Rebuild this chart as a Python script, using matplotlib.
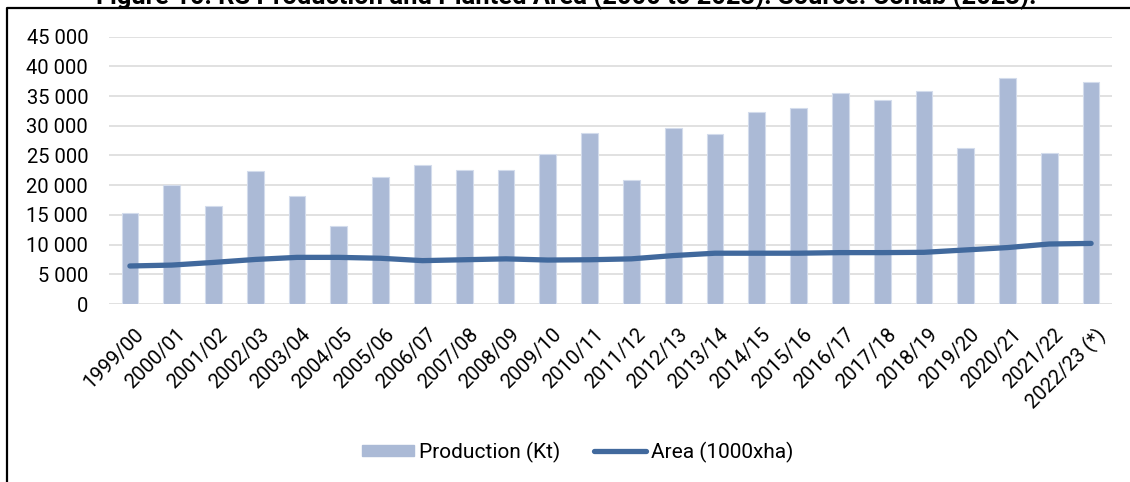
import matplotlib.pyplot as plt
from matplotlib.lines import Line2D
from matplotlib.patches import Patch
from matplotlib.ticker import FuncFormatter
from matplotlib.transforms import ScaledTranslation

plt.rcParams['font.family'] = ['Roboto', 'DejaVu Sans']

seasons = ['1999/00', '2000/01', '2001/02', '2002/03', '2003/04', '2004/05',
           '2005/06', '2006/07', '2007/08', '2008/09', '2009/10', '2010/11',
           '2011/12', '2012/13', '2013/14', '2014/15', '2015/16', '2016/17',
           '2017/18', '2018/19', '2019/20', '2020/21', '2021/22',
           '2022/23 (*)']
production = [15300, 20100, 16500, 22350, 18150, 13150, 21300, 23400,
              22550, 22500, 25300, 28750, 20850, 29650, 28600, 32400,
              32950, 35550, 34400, 35800, 26250, 38000, 25500, 37350]
area = [6400, 6550, 7000, 7500, 7850, 7850, 7700, 7300, 7450, 7600,
        7400, 7450, 7600, 8150, 8550, 8550, 8550, 8650, 8650, 8700,
        9100, 9500, 10100, 10200]

W, H = 1130, 482
fig = plt.figure(figsize=(W / 100, H / 100), dpi=100)
ax = fig.add_axes([109 / W, 178 / H, 1003 / W, 267.3 / H])

x = list(range(len(seasons)))
ax.bar(x, production, width=0.4, color='#abbad6', edgecolor='#d3dcec',
       linewidth=0.8, zorder=2)
ax.plot(x, area, color='#41699d', linewidth=3.8, solid_capstyle='round',
        solid_joinstyle='round', zorder=3)

ax.set_xlim(-0.5, len(seasons) - 0.5)
ax.set_ylim(0, 45000)
ax.set_yticks(range(0, 45001, 5000))
ax.yaxis.set_major_formatter(
    FuncFormatter(lambda v, _: f'{int(v):,}'.replace(',', ' ')))
ax.grid(axis='y', color='#d9d9d9', linewidth=1.1, zorder=0)
ax.set_axisbelow(True)
for s in ax.spines.values():
    s.set_visible(False)

ax.set_xticks(x)
ax.set_xticklabels(seasons, rotation=45, ha='right', va='top',
                   rotation_mode='anchor')
ax.tick_params(axis='x', length=0, pad=15, labelsize=14.5)
ax.tick_params(axis='y', length=0, pad=15, labelsize=14.5)
shift = ScaledTranslation(4 / 100, 0, fig.dpi_scale_trans)
for lab in ax.get_xticklabels():
    lab.set_transform(lab.get_transform() + shift)

# legend below the axis labels
handles = [Patch(facecolor='#abbad6', edgecolor='#abbad6'),
           Line2D([], [], color='#41699d', linewidth=3.8,
                  solid_capstyle='round')]
fig.legend(handles, ['Production (Kt)', 'Area (1000xha)'], ncol=2,
           loc='center', bbox_to_anchor=(577.5 / W, 1 - 452 / H),
           frameon=False, fontsize=15, handlelength=2.5, handleheight=0.5,
           handletextpad=0.25, columnspacing=1.6)

# caption sits above the frame, mostly cut off by the image edge
fig.text(566 / W, 1 - 4 / H, 'Figure 10: RS Production and Planted Area '
         '(2000 to 2023). Source: Conab (2023).', ha='center',
         va='baseline', fontsize=18.4, fontweight='bold')

fig.add_artist(Line2D([6.5 / W, 6.5 / W, 1], [0, 1 - 8 / H, 1 - 8 / H],
                      color='black', linewidth=1.6))

fig.savefig('out.png', dpi=100)
